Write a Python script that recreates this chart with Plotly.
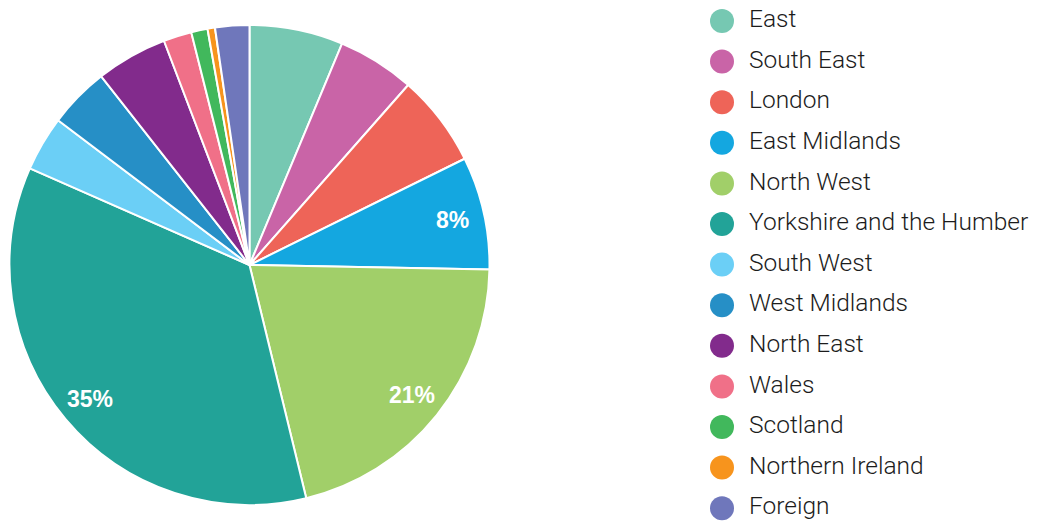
import math
import plotly.graph_objects as go

regions = ["East", "South East", "London", "East Midlands", "North West",
           "Yorkshire and the Humber", "South West", "West Midlands",
           "North East", "Wales", "Scotland", "Northern Ireland", "Foreign"]
shares = [6.3, 5.2, 6.2, 7.6, 20.9, 35.4, 3.7, 4.1, 4.8, 1.9, 1.1, 0.5, 2.3]
colours = ["#76c8b2", "#c964a7", "#ee6458", "#14a7e0", "#a1cf69", "#22a398",
           "#6bcff6", "#268fc6", "#822b8c", "#f07088", "#41b85c", "#f7941d",
           "#6f77bb"]

W, H = 1042, 526
# the page puts the figure 8px in from the top-left, so work in figure px
pie_l, pie_r, pie_t, pie_b = 1, 482, 17, 497

fig = go.Figure()

fig.add_trace(go.Pie(
    labels=regions, values=shares, sort=False, direction="clockwise",
    rotation=0, marker=dict(colors=colours, line=dict(color="white", width=2)),
    textinfo="none",
    domain=dict(x=[pie_l / W, pie_r / W], y=[(H - pie_b) / H, (H - pie_t) / H]),
    showlegend=False, hoverinfo="label+percent",
))

# percentage labels for the big slices, placed near the rim like the original
total = sum(shares)
cx = (pie_l + pie_r) / 2
cy = (pie_t + pie_b) / 2
rad = (pie_r - pie_l) / 2 * 0.865
start = 0
for name, s in zip(regions, shares):
    mid = (start + s / 2) / total * 360
    start += s
    if s < 7.5:
        continue
    px = cx + rad * math.sin(math.radians(mid))
    py = cy - rad * math.cos(math.radians(mid))
    fig.add_annotation(
        x=px / W, y=1 - py / H, xref="paper", yref="paper", showarrow=False,
        xanchor="center", yanchor="middle",
        text="%d%%" % round(s / total * 100),
        font=dict(family="Liberation Sans, Arial", size=23, color="white", weight="bold"),
    )

# hand-made legend with round markers
idx = list(range(len(regions)))
fig.add_trace(go.Scatter(
    x=[714] * len(regions), y=idx, mode="markers", cliponaxis=False,
    marker=dict(size=24, color=colours), showlegend=False, hoverinfo="skip",
))
fig.add_trace(go.Scatter(
    x=[741] * len(regions), y=idx, mode="text", text=regions,
    textposition="middle right", cliponaxis=False,
    textfont=dict(family="Roboto", size=24.5, color="#1c1c1c", weight=300),
    showlegend=False, hoverinfo="skip",
))

step = 40.6
first = 13
fig.update_layout(
    width=W, height=H, margin=dict(l=0, r=0, t=0, b=0),
    paper_bgcolor="white", plot_bgcolor="white",
    xaxis=dict(range=[0, W], visible=False, fixedrange=True),
    yaxis=dict(range=[(H - first) / step, -first / step], visible=False, fixedrange=True),
)

fig.write_html("out.html")
